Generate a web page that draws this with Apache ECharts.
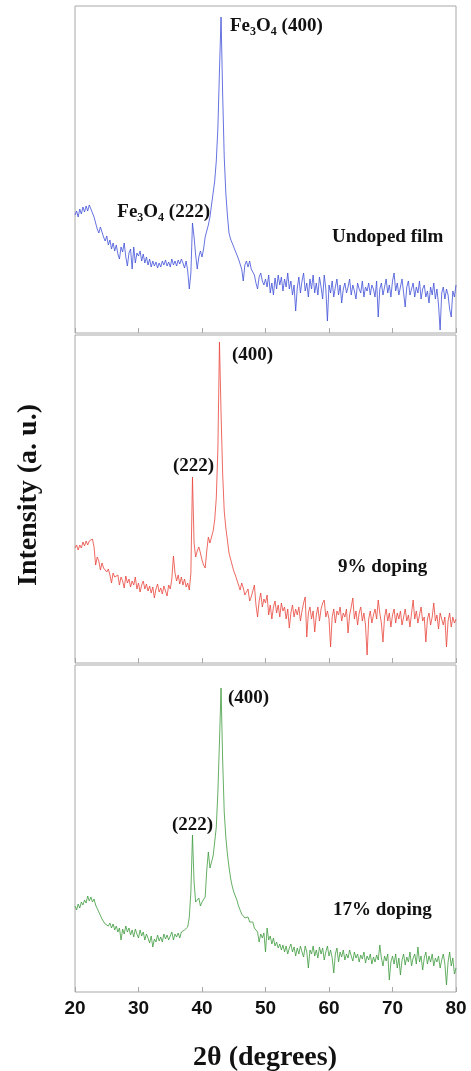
<!DOCTYPE html>
<html>
<head>
<meta charset="utf-8">
<title>XRD patterns</title>
<script src="https://cdn.jsdelivr.net/npm/echarts/dist/echarts.min.js"></script>
<style>
  html, body { margin: 0; padding: 0; background: #fff; }
  #chart { width: 471px; height: 1071px; }
</style>
</head>
<body>
<div id="chart"></div>
<script>
// 2theta grid: 20..80 deg, 0.25 deg step
const angleStart = 20
const angleStep = 0.25
const xTicks = [20, 30, 40, 50, 60, 70, 80]

// intensities (a.u.), one row per 5 degrees
const undoped = [
  118,122,116,124,119,126,121,127,122,128,124,120,116,110,104,100,106,101,96,92,
  97,88,93,84,90,82,88,79,74,86,81,90,76,67,80,84,64,86,70,80,
  77,82,72,79,70,76,68,74,66,72,67,71,65,70,66,72,68,73,67,71,
  66,74,68,72,67,73,69,74,70,65,72,62,44,60,110,96,78,64,76,82,
  76,84,96,102,108,116,128,140,152,172,205,262,316,240,176,140,118,100,94,90,
  86,82,78,74,76,64,52,68,72,66,72,64,66,58,50,44,56,60,52,48,
  54,46,58,40,50,38,55,44,58,48,56,42,54,46,60,44,52,38,48,22,
  45,56,40,52,60,42,50,36,54,44,58,40,50,38,56,46,34,58,44,12,
  48,40,52,36,46,54,38,48,30,44,50,40,46,54,38,48,42,34,50,44,
  40,52,36,46,42,50,38,48,44,36,52,16,44,50,38,46,54,40,48,36,
  52,60,42,50,38,46,54,40,26,46,52,38,44,50,36,46,40,52,34,44,
  48,36,42,30,46,38,50,34,44,28,3,40,46,34,44,38,24,16,42,36,
  48
]
const doped9 = [
  115,118,113,118,115,121,117,122,118,122,120,124,116,98,106,102,93,100,95,97,
  91,94,88,80,90,86,84,88,78,86,82,75,87,80,84,76,82,78,86,74,
  80,71,78,82,74,79,72,77,70,76,65,74,79,71,75,69,77,72,67,78,
  74,84,107,90,82,88,79,86,78,84,76,80,73,90,186,120,106,112,116,110,
  103,98,95,112,126,120,121,132,143,165,214,321,250,190,152,135,123,110,104,98,
  92,88,83,78,73,80,75,68,70,74,62,66,72,78,58,46,62,70,56,64,
  60,68,48,58,44,56,62,50,58,46,60,52,56,44,54,35,50,58,46,54,
  48,56,42,52,60,66,26,50,56,44,52,31,48,56,42,54,60,63,46,52,
  44,16,46,54,40,52,48,56,42,50,46,54,30,48,56,65,44,52,38,50,
  56,42,50,38,8,44,52,40,48,54,44,63,50,40,21,46,54,42,50,36,
  48,54,40,50,44,52,38,46,54,42,48,36,50,63,44,52,40,48,56,42,
  46,21,44,50,38,46,60,42,48,34,50,44,38,46,16,42,50,36,46,40,
  44
]
const doped17 = [
  86,82,88,84,90,87,92,89,96,91,95,90,93,87,86,80,80,73,74,68,
  70,66,69,64,68,62,66,60,64,52,63,58,66,60,64,57,62,55,63,58,
  54,62,56,60,52,58,54,49,56,45,53,50,57,51,55,50,58,53,57,52,
  56,60,52,58,55,59,54,60,58,62,61,65,75,100,157,110,90,88,94,86,
  90,88,95,122,140,124,130,136,150,165,200,250,304,233,180,155,138,125,114,106,
  100,96,92,86,82,78,80,74,72,75,70,68,70,64,66,60,50,58,54,59,
  40,64,52,56,48,54,46,50,44,48,42,47,40,46,38,44,48,40,45,36,
  44,38,46,40,35,46,40,24,42,38,46,36,42,34,45,38,44,32,40,46,
  36,42,34,19,38,44,30,40,35,42,32,38,34,42,36,31,40,34,38,30,
  37,33,40,29,36,32,38,28,35,30,37,32,47,34,26,36,31,38,12,30,
  36,28,38,24,34,17,32,38,27,35,30,40,26,34,38,28,45,30,36,22,
  34,40,28,36,30,38,26,34,30,36,24,32,38,28,7,30,40,26,34,18,
  24
]

const serif = 'Liberation Serif'
const panels = [
  { top: 6, height: 327, data: undoped, color: '#3f4fd8' },
  { top: 335, height: 328, data: doped9, color: '#e8443a' },
  { top: 665, height: 327, data: doped17, color: '#3d9a3d' }
]

function pairs(values) {
  return values.map((v, i) => [angleStart + i * angleStep, v])
}

const chart = echarts.init(document.getElementById('chart'))

const richStyle = {
  m: { fontFamily: serif, fontWeight: 'bold', fontSize: 19, lineHeight: 24, color: '#111' },
  s: { fontFamily: serif, fontWeight: 'bold', fontSize: 12, verticalAlign: 'bottom', color: '#111' }
}

function label(x, y, text, align) {
  return {
    type: 'text',
    x: x,
    y: y,
    style: {
      text: text,
      align: align || 'left',
      verticalAlign: 'middle',
      rich: richStyle,
      fill: '#111'
    }
  }
}

chart.setOption({
  animation: false,
  grid: panels.map(p => ({
    left: 75, right: 15, top: p.top, height: p.height,
    show: true, borderColor: '#a8a8a8', borderWidth: 1
  })),
  xAxis: panels.map((p, i) => ({
    type: 'value',
    gridIndex: i,
    min: 20, max: 80, interval: 10,
    axisLine: { show: false },
    axisTick: { show: true, inside: true, length: 5, lineStyle: { color: '#a8a8a8' } },
    splitLine: { show: false },
    axisLabel: {
      show: i === 2,
      margin: 7,
      fontFamily: 'Liberation Sans', fontWeight: 'bold', fontSize: 19, color: '#111',
      formatter: v => xTicks.includes(v) ? String(v) : ''
    }
  })),
  yAxis: panels.map((p, i) => ({
    type: 'value',
    gridIndex: i,
    min: 0, max: p.height,
    axisLine: { show: false },
    axisTick: { show: false },
    axisLabel: { show: false },
    splitLine: { show: false }
  })),
  series: panels.map((p, i) => ({
    type: 'line',
    xAxisIndex: i,
    yAxisIndex: i,
    data: pairs(p.data),
    showSymbol: false,
    lineStyle: { color: p.color, width: 0.8 }
  })),
  graphic: [
    label(230, 26, '{m|Fe}{s|3}{m|O}{s|4}{m| (400)}'),
    label(210, 212, '{m|Fe}{s|3}{m|O}{s|4}{m| (222)}', 'right'),
    label(332, 237, '{m|Undoped film}'),
    label(232, 355, '{m|(400)}'),
    label(173, 466, '{m|(222)}'),
    label(338, 567, '{m|9% doping}'),
    label(228, 698, '{m|(400)}'),
    label(172, 825, '{m|(222)}'),
    label(333, 910, '{m|17% doping}'),
    {
      type: 'text', x: 265, y: 1058,
      style: { text: '2θ (degrees)', align: 'center', verticalAlign: 'middle',
        font: 'bold 28px "Liberation Serif"', fill: '#111' }
    },
    {
      type: 'text', x: 29, y: 495, rotation: Math.PI / 2,
      style: { text: 'Intensity (a. u.)', align: 'center', verticalAlign: 'middle',
        font: 'bold 28px "Liberation Serif"', fill: '#111' }
    }
  ]
})
</script>
</body>
</html>
